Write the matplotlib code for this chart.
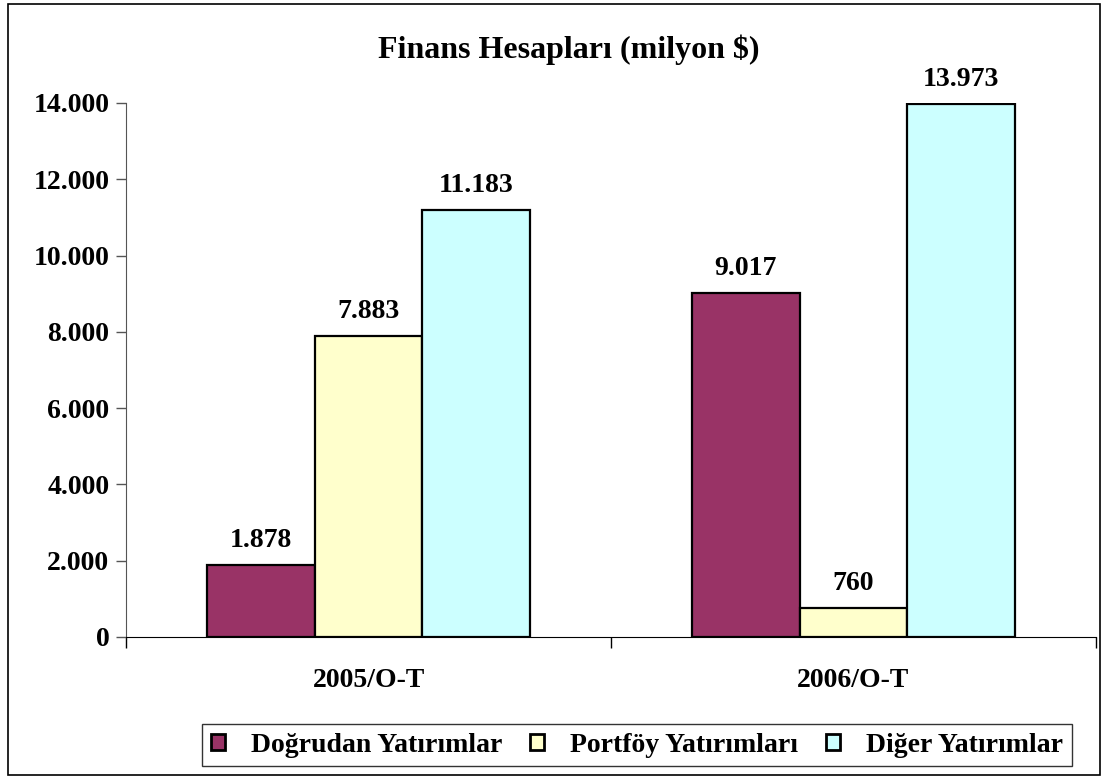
import matplotlib
matplotlib.use("Agg")
import matplotlib.pyplot as plt
from matplotlib.patches import Rectangle
import numpy as np

categories = ["2005/O-T", "2006/O-T"]
series_names = ["Doğrudan Yatırımlar", "Portföy Yatırımları", "Diğer Yatırımlar"]
dogrudan = [1878, 9017]
portfoy = [7883, 760]
diger = [11183, 13973]
series_values = [dogrudan, portfoy, diger]
colors = ["#993366", "#FFFFCC", "#CCFFFF"]
yticks = [0, 2000, 4000, 6000, 8000, 10000, 12000, 14000]

def fmt(v):
    return f"{v:,.0f}".replace(",", ".")

plt.rcParams['font.family'] = ['Liberation Serif', 'DejaVu Serif']
plt.rcParams['font.weight'] = 'bold'

fig = plt.figure(figsize=(11.02, 7.78), dpi=100)
fig.patches.append(Rectangle((8/1102, 3/778), (1100-8)/1102, (774-3)/778,
                             transform=fig.transFigure, fill=False,
                             edgecolor='black', linewidth=1.2))

ax = fig.add_axes([126/1102, (778-637)/778, (1096-126)/1102, (637-103)/778])
x = np.arange(len(categories))
w = 0.222
offsets = [-w, 0, w]
handles = []
for vals, off, c, name in zip(series_values, offsets, colors, series_names):
    bars = ax.bar(x + off, vals, width=w, color=c, edgecolor='black', linewidth=1.6,
                  label=name, zorder=3)
    handles.append(bars)
    for b, v in zip(bars, vals):
        ax.annotate(fmt(v), (b.get_x() + b.get_width() / 2, v), xytext=(0, 9),
                    textcoords='offset points', ha='center', va='bottom',
                    fontsize=20, fontweight='bold')

ax.set_xlim(-0.5, 1.5)
ax.set_ylim(0, 14000)
ax.set_yticks(yticks)
ax.set_yticklabels([fmt(v) for v in yticks], fontsize=20, fontweight='bold')
ax.set_xticks(x)
ax.set_xticklabels(categories, fontsize=20, fontweight='bold')
ax.tick_params(axis='x', which='major', length=0, pad=22)
ax.set_xticks([-0.5, 0.5, 1.5], minor=True)
ax.tick_params(axis='x', which='minor', length=8, direction='out', width=1)
ax.tick_params(axis='y', length=7, direction='out', width=1, color='#555555', pad=5)
for s in ['top', 'right']:
    ax.spines[s].set_visible(False)
ax.spines['left'].set_color('#555555')
ax.spines['bottom'].set_color('black')

fig.text(569/1102, 1 - 50/778, "Finans Hesapları (milyon $)", ha='center', va='center',
         fontsize=23, fontweight='bold')

leg = fig.legend(handles=handles, labels=series_names, loc='center',
                 bbox_to_anchor=(637/1102, 1 - 745/778), ncol=3, frameon=True,
                 fancybox=False, edgecolor='black', fontsize=20,
                 handlelength=0.5, handleheight=0.5, columnspacing=1.0,
                 handletextpad=0.95, borderpad=0.3, borderaxespad=0)
leg.get_frame().set_linewidth(1.0)
for h in leg.legend_handles:
    h.set_linewidth(2)

fig.savefig("out.png", dpi=100)
